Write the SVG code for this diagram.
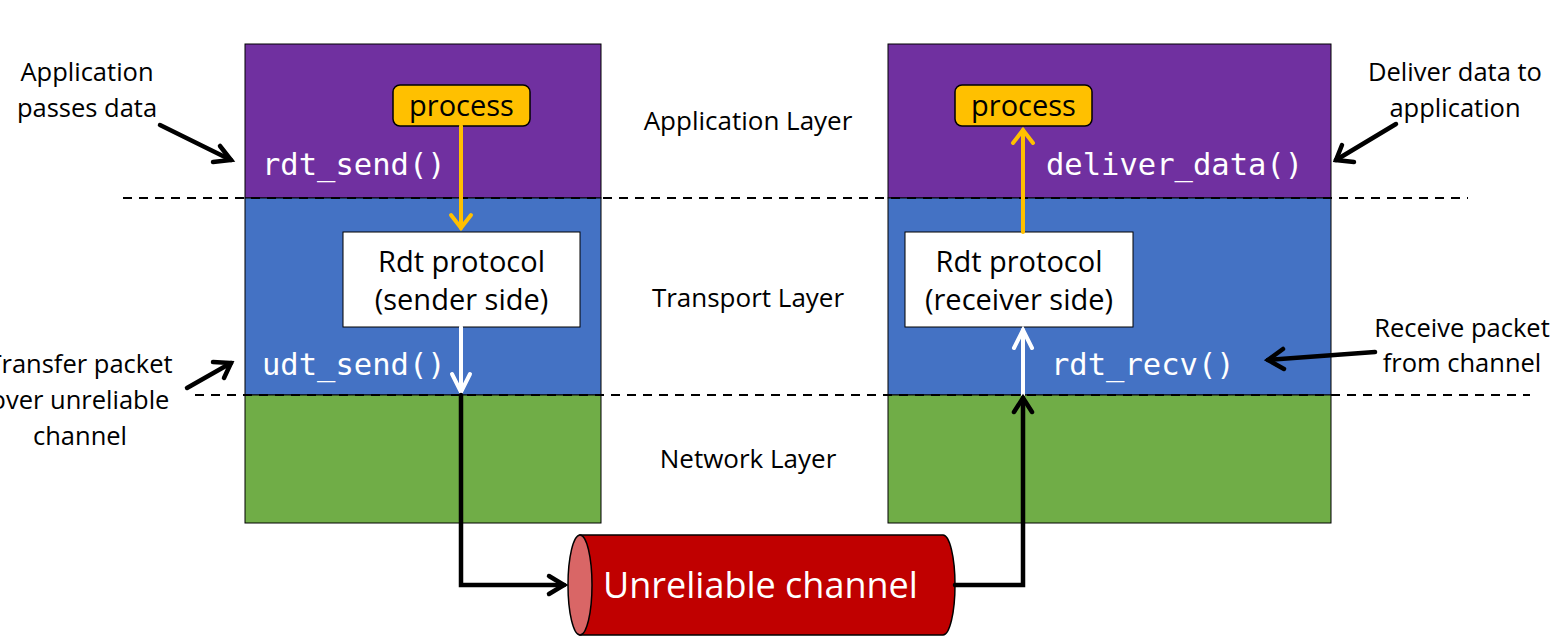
<svg xmlns="http://www.w3.org/2000/svg" width="1568" height="642" viewBox="0 0 1568 642">
<style>
.lbl{font-family:"Open Sans","Liberation Sans",sans-serif;font-size:26px;fill:#000}
.note{font-family:"Open Sans","Liberation Sans",sans-serif;font-size:25.5px;fill:#000;text-anchor:middle}
.mono{font-family:"DejaVu Sans Mono","Liberation Mono",monospace;font-size:30.5px;fill:#fff}
.proc{font-family:"Open Sans","Liberation Sans",sans-serif;font-size:29px;fill:#000;text-anchor:middle}
.rdt{font-family:"Open Sans","Liberation Sans",sans-serif;font-size:29px;fill:#000;text-anchor:middle}
.dash{stroke:#000;stroke-width:2;stroke-dasharray:9,7;fill:none}
</style>
<rect width="1568" height="642" fill="#fff"/>
<g id="sender-stack">
<rect x="245" y="44" width="356" height="154" fill="#7030A0" stroke="#000" stroke-width="1"/>
<rect x="245" y="198" width="356" height="197" fill="#4472C4" stroke="#000" stroke-width="1"/>
<rect x="245" y="395" width="356" height="128" fill="#70AD47" stroke="#000" stroke-width="1"/>
</g>
<g id="receiver-stack">
<rect x="888" y="44" width="443" height="154" fill="#7030A0" stroke="#000" stroke-width="1"/>
<rect x="888" y="198" width="443" height="197" fill="#4472C4" stroke="#000" stroke-width="1"/>
<rect x="888" y="395" width="443" height="128" fill="#70AD47" stroke="#000" stroke-width="1"/>
</g>
<g id="layer-lines">
<line x1="123" y1="198" x2="1468" y2="198" class="dash"/>
<line x1="195" y1="395" x2="1530" y2="395" class="dash"/>
</g>
<g id="layer-labels">
<text x="748" y="130" class="lbl" text-anchor="middle">Application Layer</text>
<text x="748" y="307" class="lbl" text-anchor="middle">Transport Layer</text>
<text x="748" y="468" class="lbl" text-anchor="middle">Network Layer</text>
</g>
<g id="sender-process">
<rect x="393" y="85" width="137" height="41" rx="7" fill="#FFC000" stroke="#000" stroke-width="1.5"/>
<text x="461.5" y="116" class="proc">process</text>
</g>
<g id="receiver-process">
<rect x="955" y="85" width="137" height="41" rx="7" fill="#FFC000" stroke="#000" stroke-width="1.5"/>
<text x="1023.5" y="116" class="proc">process</text>
</g>
<g id="sender-rdt">
<rect x="343" y="232" width="237" height="95" fill="#fff" stroke="#000" stroke-width="1"/>
<text x="461.5" y="272" class="rdt">Rdt protocol</text>
<text x="461.5" y="310" class="rdt">(sender side)</text>
</g>
<g id="receiver-rdt">
<rect x="905" y="232" width="228" height="95" fill="#fff" stroke="#000" stroke-width="1"/>
<text x="1019" y="272" class="rdt">Rdt protocol</text>
<text x="1019" y="310" class="rdt">(receiver side)</text>
</g>
<g id="functions">
<text x="262" y="175" class="mono">rdt_send()</text>
<text x="262" y="375" class="mono">udt_send()</text>
<text x="1046" y="175" class="mono">deliver_data()</text>
<text x="1051" y="375" class="mono">rdt_recv()</text>
</g>
<g id="channel">
<path d="M580,535 L943,535 A12,50 0 0 1 943,635 L580,635 Z" fill="#C00000" stroke="#000" stroke-width="1.5"/>
<ellipse cx="580" cy="585" rx="12" ry="50" fill="#D96666" stroke="#000" stroke-width="1.5"/>
<text x="603" y="598" font-family="'Open Sans','Liberation Sans',sans-serif" font-size="36" fill="#fff">Unreliable channel</text>
</g>
<g id="notes">
<text x="87" y="81" class="note">Application</text>
<text x="87" y="117" class="note">passes data</text>
<text x="80" y="373" class="note">Transfer packet</text>
<text x="80" y="409" class="note">over unreliable</text>
<text x="80" y="445" class="note">channel</text>
<text x="1455" y="81" class="note">Deliver data to</text>
<text x="1455" y="117" class="note">application</text>
<text x="1462" y="337" class="note">Receive packet</text>
<text x="1462" y="372" class="note">from channel</text>
</g>
<g id="connectors" fill="none" stroke-linecap="round" stroke-linejoin="miter">
<g stroke="#FFC000" stroke-width="4">
<line x1="461" y1="126" x2="461" y2="228"/>
<polyline points="451,215 461,228 471,215"/>
<line x1="1023" y1="232" x2="1023" y2="130"/>
<polyline points="1013,143 1023,130 1033,143"/>
</g>
<g stroke="#fff" stroke-width="4">
<line x1="461" y1="327" x2="461" y2="392"/>
<polyline points="452,374 461,392 470,374"/>
<line x1="1023" y1="395" x2="1023" y2="330"/>
<polyline points="1014,348 1023,330 1032,348"/>
</g>
<g stroke="#000" stroke-width="4.5">
<polyline points="461,395 461,585 564,585"/>
<polyline points="549,576 564,585 549,594"/>
<polyline points="955,585 1023,585 1023,398"/>
<polyline points="1014,412 1023,398 1032,412"/>
<line x1="160" y1="125" x2="231" y2="160"/>
<polyline points="220,146 231,160 213,162"/>
<line x1="187" y1="388" x2="231" y2="363"/>
<polyline points="213,362 231,363 224,378"/>
<line x1="1396" y1="124" x2="1336" y2="160"/>
<polyline points="1342,145 1336,160 1354,162"/>
<line x1="1375" y1="352" x2="1268" y2="360"/>
<polyline points="1283,349 1268,360 1284,369"/>
</g>
</g>
</svg>
